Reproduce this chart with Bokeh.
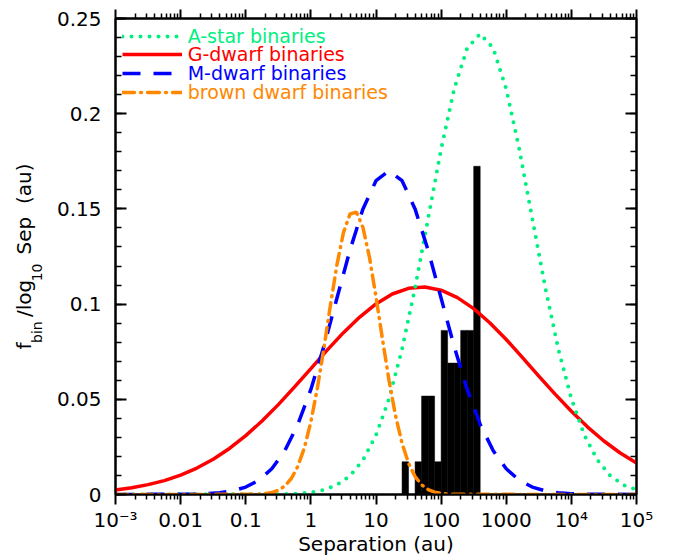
import math
from bokeh.plotting import figure
from bokeh.models import (Range1d, LogAxis, LinearAxis, FixedTicker, Legend,
                          LegendItem, CustomJSTickFormatter)
from bokeh.embed import file_html
from bokeh.resources import INLINE

# ---------------- data ----------------
# G-dwarf binaries
g_log = [-3.0, -2.75, -2.5, -2.25, -2.0, -1.75, -1.5, -1.25, -1.0, -0.75, -0.5,
         -0.25, 0.0, 0.25, 0.5, 0.75, 1.0, 1.25, 1.5, 1.75, 2.0, 2.25, 2.5, 2.75,
         3.0, 3.25, 3.5, 3.75, 4.0, 4.25, 4.5, 4.75, 5.0]
g_frac = [0.0024, 0.0035, 0.0052, 0.0073, 0.0102, 0.0139, 0.0185, 0.0242, 0.0309,
          0.0386, 0.0472, 0.0565, 0.0661, 0.0758, 0.0850, 0.0932, 0.1001, 0.1053,
          0.1083, 0.1090, 0.1073, 0.1034, 0.0976, 0.0901, 0.0814, 0.0719, 0.0622,
          0.0527, 0.0437, 0.0354, 0.0281, 0.0218, 0.0166]

# M-dwarf binaries
m_log = [-3.0, -1.8, -1.6, -1.4, -1.2, -1.0, -0.8, -0.6, -0.4, -0.2, 0.0, 0.2, 0.4,
         0.6, 0.8, 1.0, 1.2, 1.4, 1.6, 1.8, 2.0, 2.2, 2.4, 2.6, 2.8, 3.0, 3.2, 3.4,
         3.6, 3.8, 4.0, 4.2, 5.0]
m_frac = [0.0, 0.0002, 0.0004, 0.0009, 0.0019, 0.0039, 0.0075, 0.0135, 0.0230,
          0.0368, 0.0552, 0.0778, 0.1031, 0.1283, 0.1500, 0.1648, 0.1700, 0.1648,
          0.1500, 0.1283, 0.1031, 0.0778, 0.0552, 0.0368, 0.0230, 0.0135, 0.0075,
          0.0039, 0.0019, 0.0009, 0.0004, 0.0002, 0.0]

# brown dwarf binaries
bd_log = [-3.0, -0.9, -0.8, -0.7, -0.6, -0.5, -0.4, -0.3, -0.2, -0.1, 0.0, 0.1, 0.2,
          0.3, 0.4, 0.5, 0.6, 0.7, 0.8, 0.9, 1.0, 1.1, 1.2, 1.3, 1.4, 1.5, 1.6, 1.7,
          1.8, 1.9, 2.0, 2.1, 2.2, 5.0]
bd_frac = [0.0, 0.0001, 0.0002, 0.0005, 0.0010, 0.0022, 0.0045, 0.0084, 0.0148,
           0.0245, 0.0382, 0.0559, 0.0769, 0.0994, 0.1206, 0.1375, 0.1473, 0.1483,
           0.1402, 0.1245, 0.1038, 0.0814, 0.0599, 0.0414, 0.0269, 0.0164, 0.0094,
           0.0051, 0.0026, 0.0012, 0.0006, 0.0002, 0.0001, 0.0]

# A-star binaries
a_log = [-3.0, -0.4, -0.2, 0.0, 0.2, 0.4, 0.6, 0.8, 1.0, 1.2, 1.4, 1.6, 1.8, 2.0,
         2.2, 2.4, 2.6, 2.8, 3.0, 3.2, 3.4, 3.6, 3.8, 4.0, 4.2, 4.4, 4.6, 4.8, 5.0]
a_frac = [0.0, 0.0002, 0.0005, 0.0011, 0.0024, 0.0050, 0.0098, 0.0181, 0.0311,
          0.0503, 0.0763, 0.1086, 0.1449, 0.1814, 0.2129, 0.2344, 0.2420, 0.2344,
          0.2129, 0.1814, 0.1449, 0.1086, 0.0763, 0.0503, 0.0311, 0.0181, 0.0098,
          0.0050, 0.0024]

# observed histogram (bin edges in log10 au)
hist_edges_log = [1.4, 1.5, 1.6, 1.7, 1.8, 1.9, 2.0, 2.1, 2.2, 2.3, 2.4, 2.5, 2.6]
hist_frac = [0.0172, 0.0, 0.0172, 0.0517, 0.0517, 0.0172, 0.0862, 0.0690, 0.0690,
             0.0862, 0.0862, 0.1724]

# ticks
x_major = [1e-3, 1e-2, 1e-1, 1.0, 10.0, 100.0, 1000.0, 1e4, 1e5]
x_major_labels = ["10\u207b\u00b3", "0.01", "0.1", "1", "10", "100", "1000",
                  "10\u2074", "10\u2075"]
y_major = [0.0, 0.05, 0.1, 0.15, 0.2, 0.25]
y_major_labels = ["0", "0.05", "0.1", "0.15", "0.2", "0.25"]

legend_labels = ["A-star binaries", "G-dwarf binaries", "M-dwarf binaries",
                 "brown dwarf binaries"]

x_title = "Separation (au)"
NB = "\u00a0"
# y title: main line and lowered subscripts (no-break spaces keep the gaps)
y_title_main = "f" + NB * 4 + "/log" + NB * 4 + "Sep" + NB * 2 + "(au)"
y_title_sub = "bin" + NB * 9 + "10" + NB * 21

# ---------------- styling ----------------
A_COL = "#00f080"
G_COL = "#ff0000"
M_COL = "#0000ff"
BD_COL = "#ff8800"
FONT = "DejaVu Sans"

p = figure(width=678, height=558, x_axis_type="log",
           x_range=Range1d(1e-3, 1e5), y_range=Range1d(0, 0.25),
           output_backend="svg", toolbar_location=None,
           min_border_left=115, min_border_right=42,
           min_border_top=18, min_border_bottom=64)
p.xgrid.visible = False
p.ygrid.visible = False
p.outline_line_color = "black"
p.outline_line_width = 2
p.background_fill_color = "white"
p.border_fill_color = "white"

x_minor = [k * 10.0 ** e for e in range(-3, 5) for k in range(2, 10)]
y_minor = [round(0.01 * i, 2) for i in range(26)]
x_ticker = FixedTicker(ticks=x_major, minor_ticks=x_minor)
y_ticker = FixedTicker(ticks=y_major, minor_ticks=y_minor)

x_fmt = CustomJSTickFormatter(args=dict(labels=x_major_labels),
                              code="return labels[Math.round(Math.log10(tick)) + 3];")
y_fmt = CustomJSTickFormatter(args=dict(labels=y_major_labels),
                              code="return labels[Math.round(tick / 0.05)];")
blank = CustomJSTickFormatter(code="return '';")

xax = p.xaxis[0]
xax.ticker = x_ticker
xax.formatter = x_fmt
xax.major_label_text_font = FONT
xax.major_label_text_font_size = "20px"
xax.major_label_text_color = "black"
xax.major_label_standoff = 3
xax.major_tick_in = 0
xax.major_tick_out = 10
xax.minor_tick_in = 0
xax.minor_tick_out = 5
xax.axis_line_width = 2
xax.major_tick_line_width = 2
xax.minor_tick_line_width = 1.5
xax.axis_label = x_title
xax.axis_label_text_font = FONT
xax.axis_label_text_font_size = "20px"
xax.axis_label_text_font_style = "normal"
xax.axis_label_text_color = "black"
xax.axis_label_standoff = -3

yax = p.yaxis[0]
yax.ticker = y_ticker
yax.formatter = y_fmt
yax.major_label_text_font = FONT
yax.major_label_text_font_size = "20px"
yax.major_label_text_color = "black"
yax.major_label_standoff = 14
yax.major_tick_in = 11
yax.major_tick_out = 0
yax.minor_tick_in = 6
yax.minor_tick_out = 0
yax.axis_line_width = 2
yax.major_tick_line_width = 2
yax.minor_tick_line_width = 1.5
yax.axis_label = y_title_sub
yax.axis_label_text_font = FONT
yax.axis_label_text_font_size = "14px"
yax.axis_label_text_font_style = "normal"
yax.axis_label_text_color = "black"
yax.axis_label_standoff = 9

# invisible outer left axis that only carries the main part of the y title
ytitle_axis = LinearAxis(ticker=FixedTicker(ticks=[]), axis_line_color=None,
                         major_tick_in=0, major_tick_out=0, minor_tick_in=0,
                         minor_tick_out=0, axis_label=y_title_main,
                         axis_label_text_font=FONT,
                         axis_label_text_font_size="20px",
                         axis_label_text_font_style="normal",
                         axis_label_text_color="black",
                         axis_label_standoff=-10)
p.add_layout(ytitle_axis, "left")

top = LogAxis(ticker=x_ticker, formatter=blank, major_label_text_font_size="4px",
              major_label_standoff=0, major_tick_in=0, major_tick_out=9,
              minor_tick_in=0, minor_tick_out=5, axis_line_width=2,
              major_tick_line_width=2, minor_tick_line_width=1.5)
p.add_layout(top, "above")
right = LinearAxis(ticker=y_ticker, formatter=blank,
                   major_label_text_font_size="4px",
                   major_label_standoff=0, major_tick_in=11, major_tick_out=0,
                   minor_tick_in=6, minor_tick_out=0, axis_line_width=2,
                   major_tick_line_width=2, minor_tick_line_width=1.5)
p.add_layout(right, "right")

# histogram
p.quad(left=[10 ** v for v in hist_edges_log[:-1]],
       right=[10 ** v for v in hist_edges_log[1:]],
       bottom=0, top=hist_frac, fill_color="black", line_color="black",
       line_width=0.5)

# curves
r_g = p.line([10 ** v for v in g_log], g_frac, line_color=G_COL, line_width=3.5)
r_a = p.line([10 ** v for v in a_log], a_frac, line_color=A_COL, line_width=4,
             line_dash="0 9", line_cap="round")
r_m = p.line([10 ** v for v in m_log], m_frac, line_color=M_COL, line_width=3.5,
             line_dash="18 13")
r_bd = p.line([10 ** v for v in bd_log], bd_frac, line_color=BD_COL,
              line_width=3.5, line_dash="12 6 1 6", line_cap="round")

# legend: one single-row legend per entry, so the row pitch matches
row_y = [447.3, 428.7, 409.7, 391.3]
for lab, rend, col, yy in zip(legend_labels, [r_a, r_g, r_m, r_bd],
                              [A_COL, G_COL, M_COL, BD_COL], row_y):
    leg = Legend(items=[LegendItem(label=lab, renderers=[rend])],
                 location=(6.7, yy), padding=0, margin=0, spacing=0,
                 glyph_width=60, glyph_height=22, label_height=22,
                 label_standoff=6, label_text_font=FONT,
                 label_text_font_size="19px", label_text_color=col,
                 border_line_alpha=0, background_fill_alpha=0)
    p.add_layout(leg)

open("out.html", "w").write(file_html(p, INLINE, title="binaries"))
